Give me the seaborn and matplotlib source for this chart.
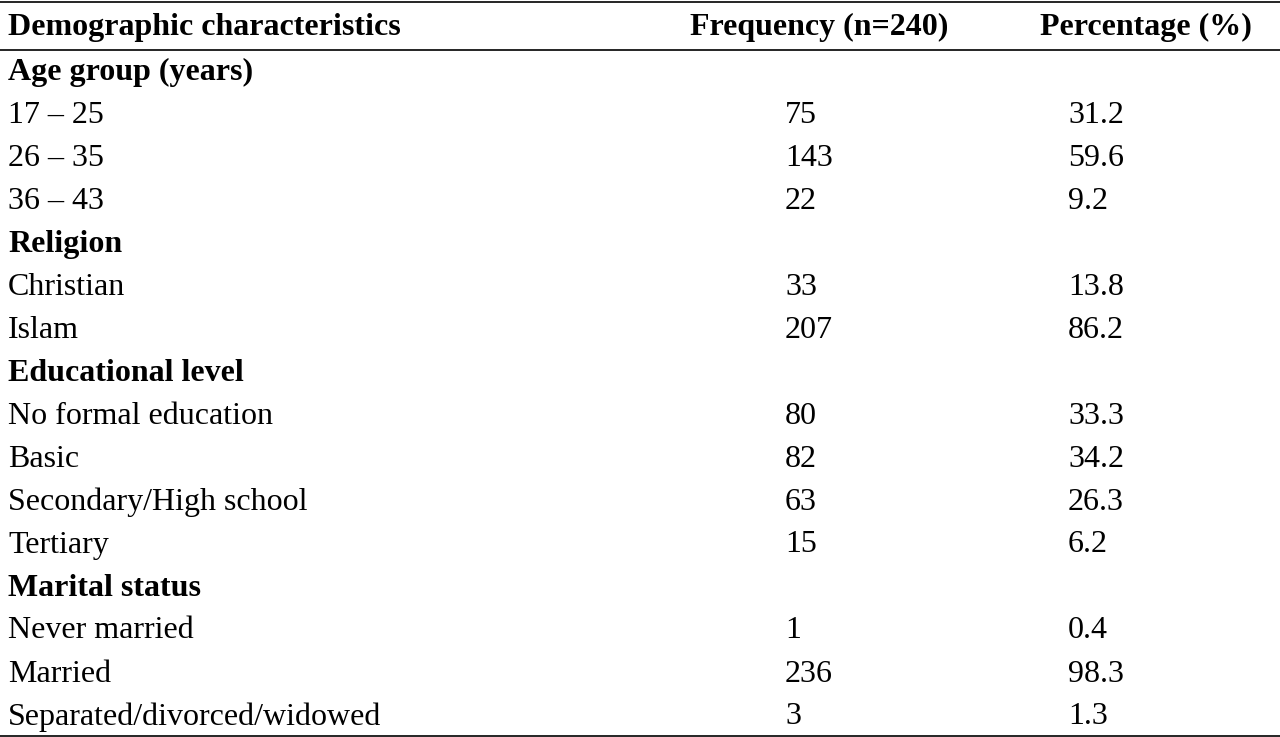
import matplotlib.pyplot as plt
import seaborn as sns

headers = ['Demographic characteristics', 'Frequency (n=240)', 'Percentage (%)']

groups = ['Age group (years)', 'Religion', 'Educational level', 'Marital status']
labels = [
    ['17 – 25', '26 – 35', '36 – 43'],
    ['Christian', 'Islam'],
    ['No formal education', 'Basic', 'Secondary/High school', 'Tertiary'],
    ['Never married', 'Married', 'Separated/divorced/widowed'],
]
frequency = [[75, 143, 22], [33, 207], [80, 82, 63, 15], [1, 236, 3]]
percentage = [[31.2, 59.6, 9.2], [13.8, 86.2], [33.3, 34.2, 26.3, 6.2], [0.4, 98.3, 1.3]]

sns.set_style('white')
plt.rcParams['font.family'] = ['Liberation Serif', 'DejaVu Serif']
plt.rcParams['text.color'] = 'black'

fig = plt.figure(figsize=(12.8, 7.37), dpi=100)
ax = fig.add_axes([0, 0, 1, 1])
ax.set_xlim(0, 1280)
ax.set_ylim(737, 0)
ax.axis('off')

fs = 23
ax.text(8, 27, headers[0], fontsize=fs, fontweight='bold', va='center')
ax.text(690, 27, headers[1], fontsize=fs, fontweight='bold', va='center')
ax.text(1040, 27, headers[2], fontsize=fs, fontweight='bold', va='center')

ax.axhline(2, color='black', lw=1.2)
ax.axhline(50, color='black', lw=1.2)
ax.axhline(736, color='black', lw=1.2)

row = 0
for g, labs, fr, pc in zip(groups, labels, frequency, percentage):
    y = 72 + 43 * row
    ax.text(8, y, g, fontsize=fs, fontweight='bold', va='center')
    row += 1
    for lab, f, p in zip(labs, fr, pc):
        y = 72 + 43 * row
        ax.text(8, y, lab, fontsize=fs, va='center')
        ax.text(785, y, str(f), fontsize=fs, va='center')
        ax.text(1068, y, f'{p:.1f}', fontsize=fs, va='center')
        row += 1

fig.savefig('out.png', dpi=100)
plt.close(fig)
